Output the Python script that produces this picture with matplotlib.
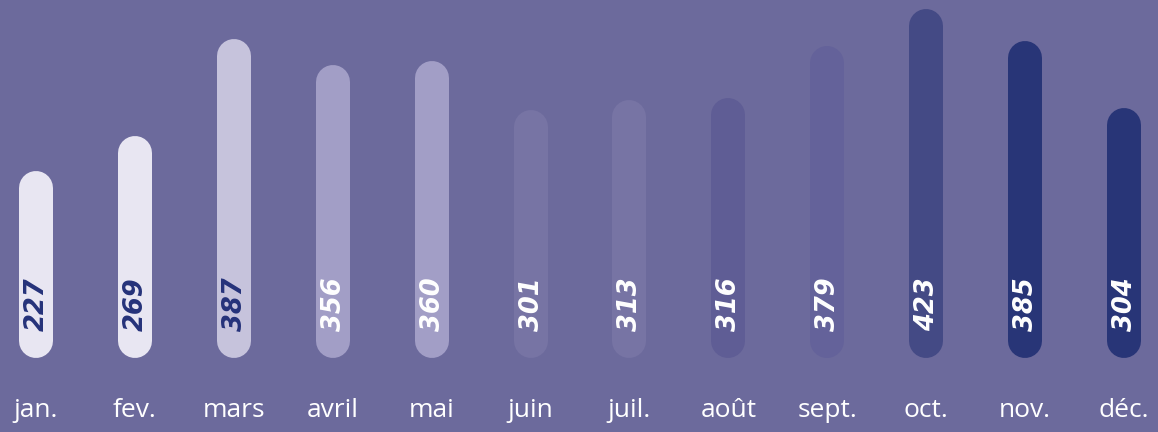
import matplotlib
matplotlib.use("Agg")
import matplotlib.pyplot as plt

months = ["jan.", "fev.", "mars", "avril", "mai", "juin",
          "juil.", "août", "sept.", "oct.", "nov.", "déc."]
values = [227, 269, 387, 356, 360, 301, 313, 316, 379, 423, 385, 304]
bar_colors = ["#e8e6f2", "#e8e6f2", "#c6c3dc", "#a29ec6", "#a29ec6", "#7774a4",
              "#7774a4", "#5f5d95", "#64629a", "#444a85", "#283577", "#283577"]
text_colors = ["#25327a"] * 3 + ["#ffffff"] * 9

BG = "#6c6a9c"
W, H, DPI = 1158, 432, 100
BASE_PX = 74          # baseline height above figure bottom
PX_PER_UNIT = 0.824
BAR_PX = 34

fig = plt.figure(figsize=(W / DPI, H / DPI), dpi=DPI, facecolor=BG)
ax = fig.add_axes([0, BASE_PX / H, 1, (H - BASE_PX) / H])
ax.set_facecolor(BG)

step = (1124 - 36) / 11
ax.set_xlim(-36 / step, 11 + (W - 1124) / step)
ax.set_ylim(0, (H - BASE_PX) / PX_PER_UNIT)

r = BAR_PX / 2 / PX_PER_UNIT
lw = BAR_PX * 72 / DPI
for i, (v, c, tc) in enumerate(zip(values, bar_colors, text_colors)):
    ax.plot([i, i], [r, v - r], color=c, lw=lw, solid_capstyle="round")
    ax.text(i + 0.01, 27 / PX_PER_UNIT, str(v), rotation=90, ha="center", va="bottom",
            color=tc, fontsize=18.5, fontweight="bold", fontstyle="italic",
            family="DejaVu Sans")

ax.set_xticks(range(len(months)))
ax.set_xticklabels(months, color="white", fontsize=19, family="Open Sans")
ax.tick_params(axis="x", length=0, pad=29)
ax.set_yticks([])
for s in ax.spines.values():
    s.set_visible(False)

fig.savefig("out.png", dpi=DPI, facecolor=BG)
